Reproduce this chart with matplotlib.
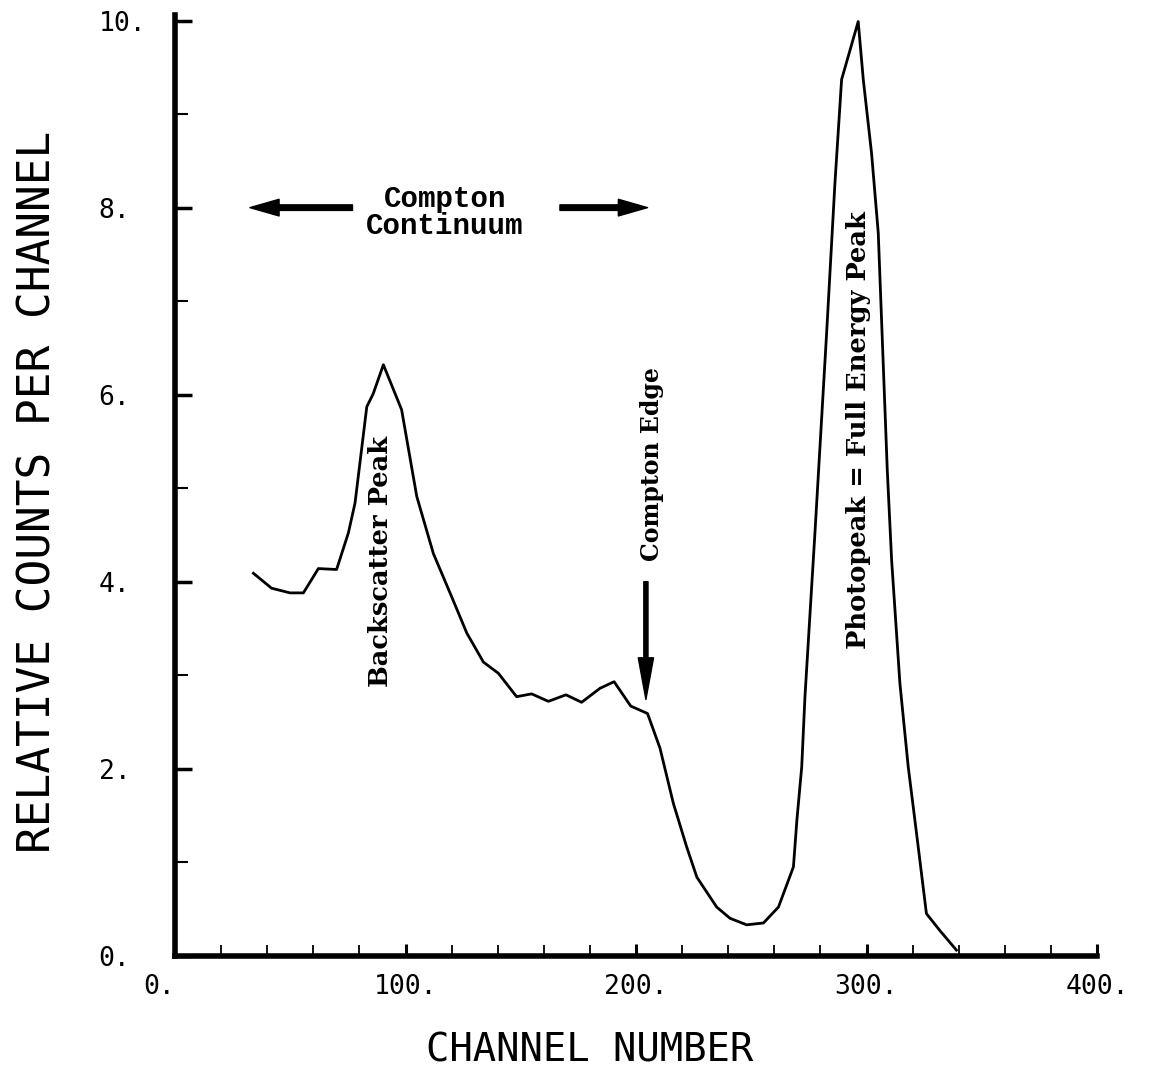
import numpy as np
import matplotlib
matplotlib.use("Agg")
import matplotlib.pyplot as plt

# gamma-ray pulse height spectrum
channel = [34.0, 41.9, 49.9, 55.7, 62.2, 70.1, 75.2, 78.1, 83.2, 86.0,
           90.4, 98.3, 104.9, 112.1, 120.0, 126.6, 133.8, 140.3, 148.2, 154.7,
           162.0, 169.6, 176.4, 184.4, 190.5, 197.7, 205.0, 210.4, 216.2, 221.9,
           226.4, 235.0, 240.8, 248.0, 255.3, 261.8, 268.3, 269.8, 271.9, 273.3,
           277.7, 282.7, 286.3, 289.2, 296.4, 298.6, 302.2, 305.1, 309.0, 310.9,
           314.5, 318.1, 321.7, 326.0, 331.8, 339.0]
counts = [4.09, 3.93, 3.88, 3.88, 4.14, 4.13, 4.52, 4.84, 5.87, 6.01,
          6.32, 5.84, 4.91, 4.30, 3.84, 3.45, 3.14, 3.02, 2.77, 2.80,
          2.72, 2.79, 2.71, 2.86, 2.93, 2.67, 2.59, 2.22, 1.63, 1.17,
          0.84, 0.52, 0.40, 0.33, 0.35, 0.52, 0.95, 1.45, 2.02, 2.77,
          4.55, 6.66, 8.26, 9.37, 9.99, 9.37, 8.58, 7.73, 5.20, 4.23,
          2.91, 2.02, 1.31, 0.45, 0.27, 0.06]

xticks_major = [0, 100, 200, 300, 400]
xtick_labels = ["0.", "100.", "200.", "300.", "400."]
yticks_major = [0, 2, 4, 6, 8, 10]
ytick_labels = ["0.", "2.", "4.", "6.", "8.", "10."]

fig = plt.figure(figsize=(11.6, 10.82), dpi=100)
fig.set_facecolor('w')
ax = fig.add_axes([175/1160, 1 - 955.7/1082, 922/1160, (955.7 - 15)/1082])

ax.plot(channel, counts, color='k', lw=2.0, solid_joinstyle='round')

ax.set_xlim(0, 400)
ax.set_ylim(0, 10.06)

for side in ['top', 'right']:
    ax.spines[side].set_visible(False)
ax.spines['left'].set_linewidth(4.0)
ax.spines['bottom'].set_linewidth(4.0)

ax.set_xticks(xticks_major)
ax.set_xticks(np.arange(20, 400, 20), minor=True)
ax.set_yticks(yticks_major)
ax.set_yticks([1, 3, 5, 7, 9], minor=True)

tick_font = dict(family='DejaVu Sans Mono', size=19)
ax.set_xticklabels(xtick_labels, **tick_font)
ax.set_yticklabels(ytick_labels, **tick_font)
ax.tick_params(axis='x', which='major', direction='in', length=9, width=2.2, pad=13)
ax.tick_params(axis='x', which='minor', direction='in', length=8, width=1.3)
ax.tick_params(axis='y', which='major', direction='in', length=12, width=2.5, pad=55)
ax.tick_params(axis='y', which='minor', direction='in', length=9, width=1.5)
for lab in ax.get_yticklabels():
    lab.set_horizontalalignment('left')
ax.get_xticklabels()[0].set_horizontalalignment('right')

# axis titles placed at fixed figure positions
fig.text(590/1160, 1 - 1050/1082, "CHANNEL NUMBER", family='DejaVu Sans Mono',
         size=28, ha='center', va='center')
fig.text(38/1160, 1 - 492/1082, "RELATIVE COUNTS PER CHANNEL",
         family='DejaVu Sans Mono', size=32, rotation=90, ha='center', va='center')

# annotations
arrow = dict(arrowstyle="simple,head_length=1.05,head_width=0.6,tail_width=0.2",
             color='k', shrinkA=0, shrinkB=0, mutation_scale=20)
ax.annotate('', xy=(32.5, 8.0), xytext=(77, 8.0), arrowprops=arrow)
ax.annotate('', xy=(205, 8.0), xytext=(167, 8.0), arrowprops=arrow)
ax.text(117, 7.95, "Compton\nContinuum", family='Liberation Mono', weight='bold',
        size=21, ha='center', va='center', linespacing=0.95)

serif = dict(family='DejaVu Serif', weight='bold', rotation=90,
             ha='center', va='center')
ax.text(89, 4.22, "Backscatter Peak", size=18.5, **serif)
ax.text(207, 5.26, "Compton Edge", size=17, **serif)
ax.text(296.7, 5.62, "Photopeak = Full Energy Peak", size=18.5, **serif)

down = dict(arrowstyle="simple,head_length=1.5,head_width=0.55,tail_width=0.15",
            color='k', shrinkA=0, shrinkB=0, mutation_scale=20)
ax.annotate('', xy=(204.3, 2.74), xytext=(204.3, 4.0), arrowprops=down)

fig.savefig("out.png", dpi=100)
